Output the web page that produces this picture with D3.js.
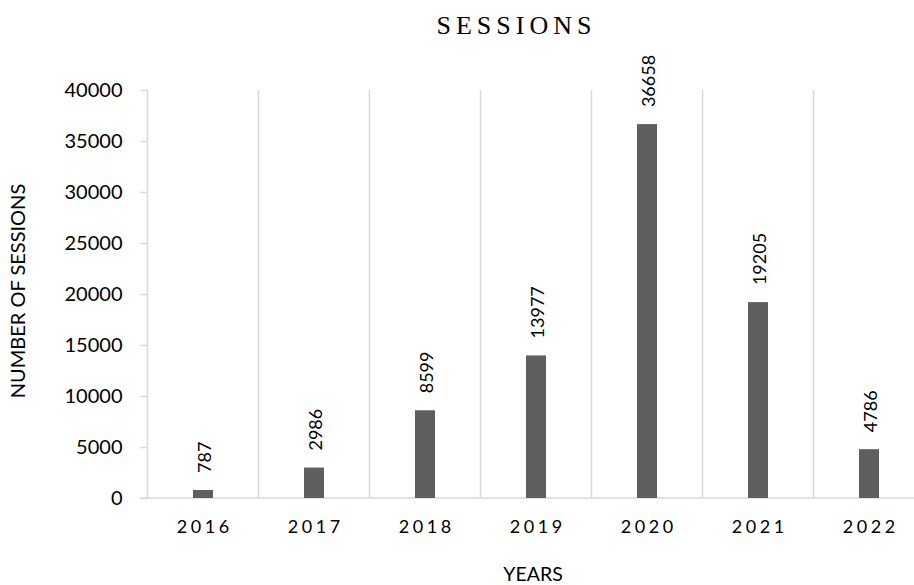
<!DOCTYPE html>
<html>
<head>
<meta charset="utf-8">
<script src="https://cdn.jsdelivr.net/npm/d3@7"></script>
<style>
  html, body { margin: 0; padding: 0; background: #fff; }
  svg { display: block; }
</style>
</head>
<body>
<svg id="chart" width="914" height="585"></svg>
<script>
// Sessions per year
const years = ["2016", "2017", "2018", "2019", "2020", "2021", "2022"];
const sessions = [787, 2986, 8599, 13977, 36658, 19205, 4786];
const yTicks = [0, 5000, 10000, 15000, 20000, 25000, 30000, 35000, 40000];

const svg = d3.select("#chart");
const gridColor = "#d9d9d9";
const barColor = "#5f5f5f";
const sans = "Lato, 'Open Sans', sans-serif";

const plotLeft = 147.5, plotRight = 924.5, plotTop = 90, plotBottom = 498;

const x = d3.scaleBand().domain(years).range([plotLeft, plotRight]).padding(0);
const y = d3.scaleLinear().domain([0, 40000]).range([plotBottom, plotTop]);
const barW = 20;

// vertical category separators
const bounds = years.map(d => x(d)).concat([plotRight]);
svg.append("g").selectAll("line").data(bounds).join("line")
  .attr("x1", d => d).attr("x2", d => d)
  .attr("y1", plotTop).attr("y2", plotBottom)
  .attr("stroke", gridColor).attr("stroke-width", 1.5);

// value axis with short outside ticks
const yAxis = svg.append("g")
  .attr("transform", `translate(${plotLeft},0)`)
  .call(d3.axisLeft(y).tickValues(yTicks).tickFormat(d3.format("d"))
    .tickSize(7).tickPadding(18).tickSizeOuter(0));
yAxis.select(".domain").remove();
yAxis.selectAll(".tick line").attr("stroke", gridColor).attr("stroke-width", 1.5);
yAxis.selectAll(".tick text")
  .attr("font-family", sans).attr("font-size", 20).attr("fill", "#000");

// baseline
svg.append("line")
  .attr("x1", plotLeft - 7).attr("x2", 914)
  .attr("y1", y(0)).attr("y2", y(0))
  .attr("stroke", gridColor).attr("stroke-width", 1.5);

// bars
svg.append("g").selectAll("rect").data(sessions).join("rect")
  .attr("x", (d, i) => x(years[i]) + x.bandwidth() / 2 - barW / 2)
  .attr("width", barW)
  .attr("y", d => y(d))
  .attr("height", d => y(0) - y(d))
  .attr("fill", barColor);

// rotated value labels above bars
svg.append("g").selectAll("text").data(sessions).join("text")
  .attr("transform", (d, i) =>
    `translate(${x(years[i]) + x.bandwidth() / 2 + 1},${y(d) - 17}) rotate(-90)`)
  .attr("dominant-baseline", "central")
  .attr("text-anchor", "start")
  .attr("font-family", sans).attr("font-size", 18).attr("fill", "#000")
  .text(d => d);

// category labels
const ls = 3.5;
svg.append("g").selectAll("text").data(years).join("text")
  .attr("x", d => x(d) + x.bandwidth() / 2 + ls / 2)
  .attr("y", 533)
  .attr("text-anchor", "middle")
  .attr("font-family", sans).attr("font-size", 18)
  .attr("letter-spacing", ls).attr("fill", "#000")
  .text(d => d);

// title
svg.append("text")
  .attr("x", 514 + 2.5).attr("y", 34)
  .attr("text-anchor", "middle")
  .attr("font-family", "'Liberation Serif', 'Times New Roman', serif")
  .attr("font-size", 26).attr("letter-spacing", 5).attr("fill", "#000")
  .text("SESSIONS");

// axis titles
svg.append("text")
  .attr("x", 533).attr("y", 581)
  .attr("text-anchor", "middle")
  .attr("font-family", sans).attr("font-size", 19.5).attr("fill", "#000")
  .text("YEARS");

svg.append("text")
  .attr("transform", "translate(25,291) rotate(-90)")
  .attr("text-anchor", "middle")
  .attr("font-family", sans).attr("font-size", 20).attr("fill", "#000")
  .text("NUMBER OF SESSIONS");
</script>
</body>
</html>
